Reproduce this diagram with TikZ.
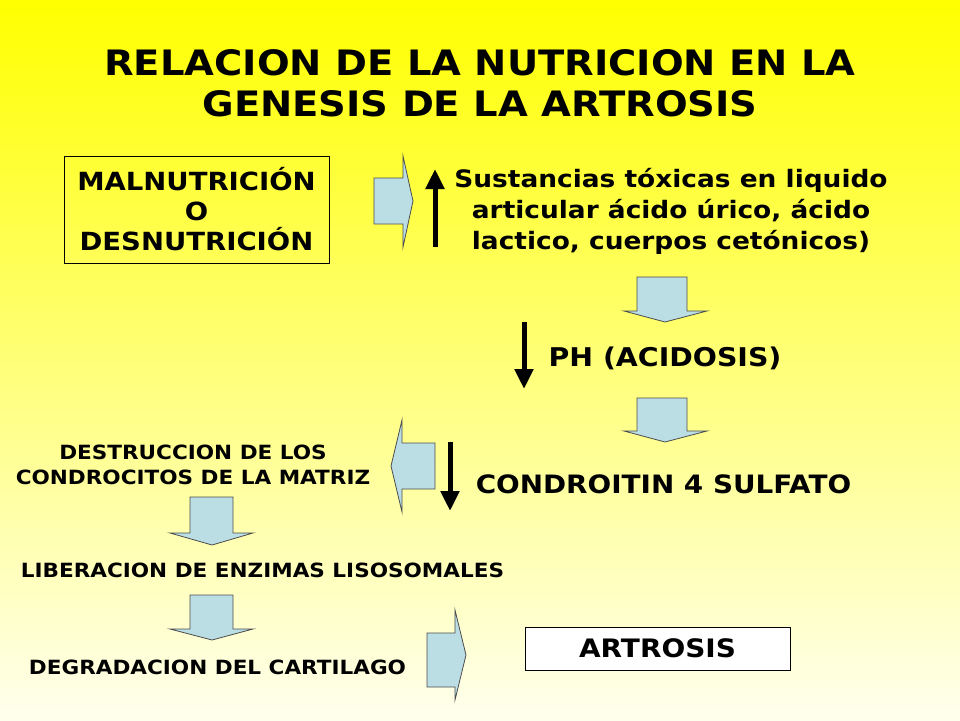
\documentclass[tikz,border=0pt]{standalone}
\usepackage{fontspec}
\setmainfont{DejaVu Sans}[FakeStretch=1.1]
\usetikzlibrary{arrows.meta}
\definecolor{paleblue}{RGB}{186,222,228}
\definecolor{cream}{RGB}{255,255,238}
\tikzset{
  txt/.style={font=\bfseries, align=center, inner sep=0pt},
  fatarrow/.style={draw=black!70, fill=paleblue, line width=0.8pt, line join=miter},
  thinarrow/.style={line width=5pt, -{Triangle[width=18pt,length=20pt]}}
}
\begin{document}
\begin{tikzpicture}[x=1pt,y=-1pt]
\shade[top color=yellow, bottom color=cream] (0,0) rectangle (960,720);
\useasboundingbox (0,0) rectangle (960,720);

% title
\node[txt, font=\bfseries\fontsize{35}{41}\selectfont] (title) at (480,83) {RELACION DE LA NUTRICION EN LA\\GENESIS DE LA ARTROSIS};

% texts
\node[txt, draw, minimum width=265pt, minimum height=107pt, font=\bfseries\fontsize{25}{30}\selectfont] (maln) at (196.5,209.5) {MALNUTRICIÓN\\O\\DESNUTRICIÓN};
\node[txt, font=\bfseries\fontsize{24}{31}\selectfont] (tox) at (671,211) {Sustancias tóxicas en liquido\\articular ácido úrico, ácido\\lactico, cuerpos cetónicos)};
\node[txt, font=\bfseries\fontsize{25.8}{31}\selectfont] (ph) at (665,358) {PH (ACIDOSIS)};
\node[txt, font=\bfseries\fontsize{25.3}{31}\selectfont] (cond) at (663.5,484) {CONDROITIN 4 SULFATO};
\node[txt, font=\bfseries\fontsize{19.6}{25}\selectfont] (destr) at (193,465) {DESTRUCCION DE LOS\\CONDROCITOS DE LA MATRIZ};
\node[txt, font=\bfseries\fontsize{19.6}{25}\selectfont] (lib) at (262.5,570) {LIBERACION DE ENZIMAS LISOSOMALES};
\node[txt, font=\bfseries\fontsize{19.6}{25}\selectfont] (degr) at (217.5,667) {DEGRADACION DEL CARTILAGO};
\node[txt, draw, fill=white, minimum width=265pt, minimum height=43pt, font=\bfseries\fontsize{25.4}{31}\selectfont] (artr) at (657.5,648.5) {ARTROSIS};

% block arrows
\draw[fatarrow] (374,178) -- (403,178) -- (403,156) -- (413,201) -- (403,247) -- (403,224) -- (374,224) -- cycle;
\draw[fatarrow] (637,277) -- (687,277) -- (687,311) -- (707,311) -- (665,322) -- (624,311) -- (637,311) -- cycle;
\draw[fatarrow] (637,398) -- (687,398) -- (687,431) -- (707,431) -- (665,442) -- (624,431) -- (637,431) -- cycle;
\draw[fatarrow] (435,443) -- (402,443) -- (402,420) -- (391,466) -- (402,512) -- (402,489) -- (435,489) -- cycle;
\draw[fatarrow] (190,497) -- (233,497) -- (233,533) -- (253,533) -- (212,545) -- (170,533) -- (190,533) -- cycle;
\draw[fatarrow] (190,595) -- (233,595) -- (233,629) -- (253,629) -- (212,640) -- (170,629) -- (190,629) -- cycle;
\draw[fatarrow] (427,633) -- (455,633) -- (455,610) -- (466,655) -- (455,700) -- (455,687) -- (427,687) -- cycle;

% black arrows
\draw[thinarrow] (435,247) -- (435,169);
\draw[thinarrow] (524,322) -- (524,389);
\draw[thinarrow] (450,442) -- (450,511);
\end{tikzpicture}
\end{document}
